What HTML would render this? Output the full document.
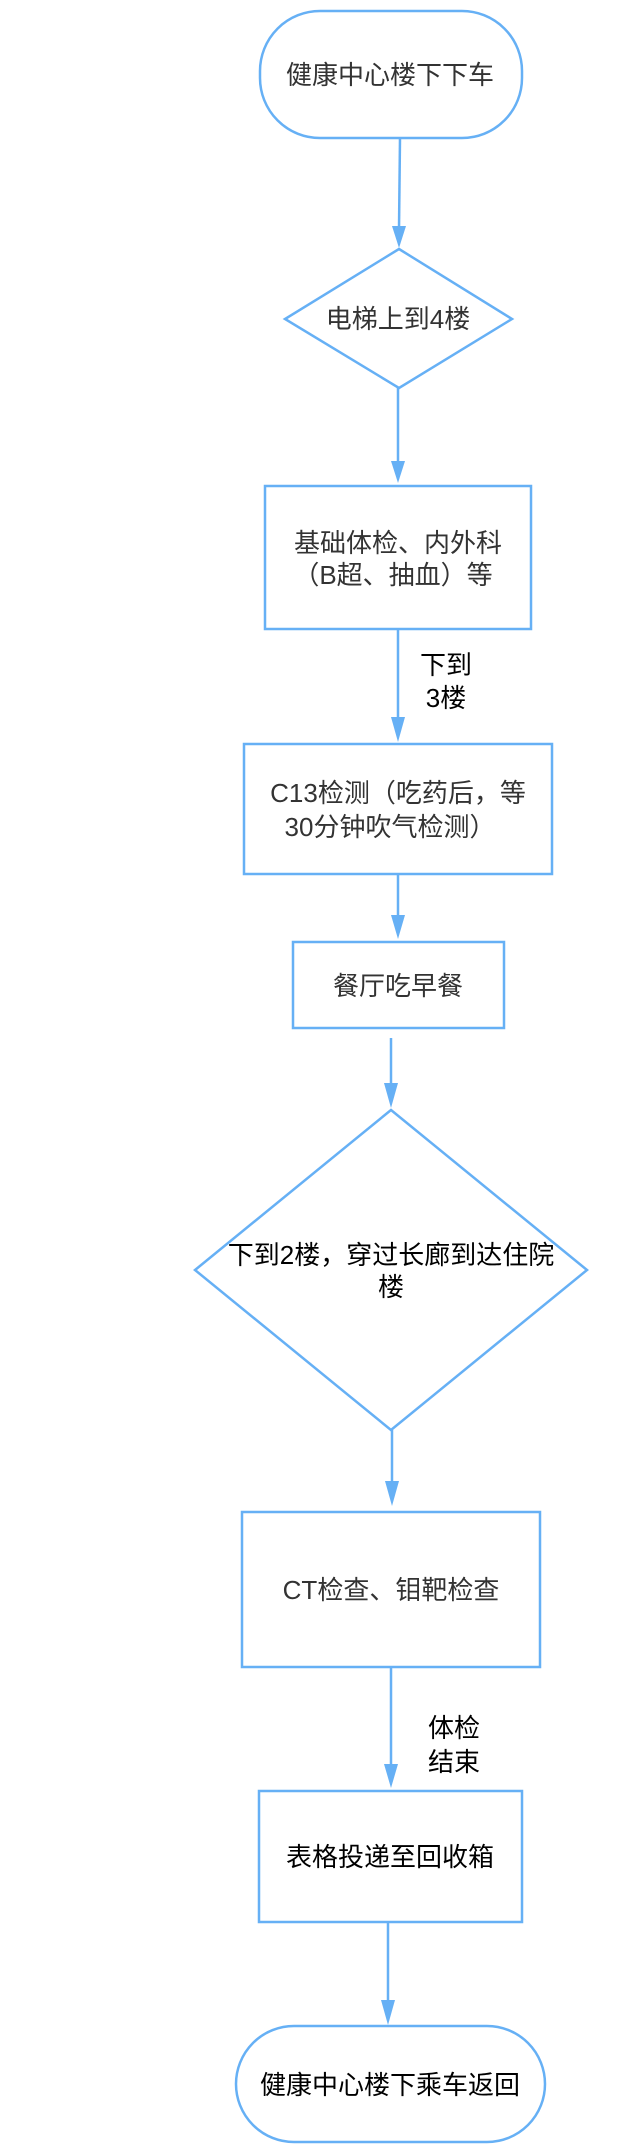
<!DOCTYPE html>
<html><head><meta charset="utf-8"><style>
html,body{margin:0;padding:0;background:#fff;}
svg{display:block;}
text{font-family:"Liberation Sans","Noto Sans CJK SC",sans-serif;font-size:26px;text-anchor:middle;dominant-baseline:central;}
.g{fill:#333;}
.k{fill:#000;}
.s{fill:#fff;stroke:#66b0f5;stroke-width:2.5;}
.l{stroke:#66b0f5;stroke-width:2.5;fill:none;}
.a{fill:#66b0f5;}
</style></head><body>
<svg width="621" height="2152" viewBox="0 0 621 2152" xmlns="http://www.w3.org/2000/svg">
<!-- start -->
<rect class="s" x="260" y="11" width="262" height="127" rx="60" ry="60"/>
<text class="g" x="390" y="75">健康中心楼下下车</text>
<line class="l" x1="400" y1="138" x2="399" y2="229"/>
<polygon class="a" points="392,226 406,226 399,248"/>
<!-- diamond 1 -->
<polygon class="s" points="399,249 512,319 399,388 285,319"/>
<text class="g" x="398" y="319">电梯上到4楼</text>
<line class="l" x1="398" y1="388" x2="398" y2="464"/>
<polygon class="a" points="391,461 405,461 398,483"/>
<!-- rect 1 -->
<rect class="s" x="265" y="486" width="266" height="143"/>
<text class="g" x="398" y="543">基础体检、内外科</text>
<text class="g" x="393" y="575">（B超、抽血）等</text>
<line class="l" x1="398" y1="629" x2="398" y2="720"/>
<polygon class="a" points="391,717 405,717 398,742"/>
<text class="k" x="446" y="665">下到</text>
<text class="k" x="446" y="698">3楼</text>
<!-- rect 2 -->
<rect class="s" x="244" y="744" width="308" height="130"/>
<text class="g" x="398" y="793">C13检测（吃药后，等</text>
<text class="g" x="390" y="827">30分钟吹气检测）</text>
<line class="l" x1="398" y1="874" x2="398" y2="918"/>
<polygon class="a" points="391,915 405,915 398,939"/>
<!-- rect 3 -->
<rect class="s" x="293" y="942" width="211" height="86"/>
<text class="g" x="398" y="986">餐厅吃早餐</text>
<line class="l" x1="391" y1="1038" x2="391" y2="1086"/>
<polygon class="a" points="384,1083 398,1083 391,1108"/>
<!-- diamond 2 -->
<polygon class="s" points="391,1110 587,1270 391,1430 195,1270"/>
<text class="k" x="391" y="1255">下到2楼，穿过长廊到达住院</text>
<text class="k" x="391" y="1287">楼</text>
<line class="l" x1="392" y1="1430" x2="392" y2="1484"/>
<polygon class="a" points="385,1481 399,1481 392,1506"/>
<!-- rect 4 -->
<rect class="s" x="242" y="1512" width="298" height="155"/>
<text class="g" x="391" y="1590">CT检查、钼靶检查</text>
<line class="l" x1="391" y1="1667" x2="391" y2="1767"/>
<polygon class="a" points="384,1764 398,1764 391,1788"/>
<text class="k" x="454" y="1728">体检</text>
<text class="k" x="454" y="1762">结束</text>
<!-- rect 5 -->
<rect class="s" x="259" y="1791" width="263" height="131"/>
<text class="k" x="390" y="1857">表格投递至回收箱</text>
<line class="l" x1="388" y1="1922" x2="388" y2="2003"/>
<polygon class="a" points="381,2000 395,2000 388,2025"/>
<!-- end -->
<rect class="s" x="236" y="2026" width="309" height="116" rx="58" ry="58"/>
<text class="k" x="390" y="2085">健康中心楼下乘车返回</text>
</svg>
</body></html>
